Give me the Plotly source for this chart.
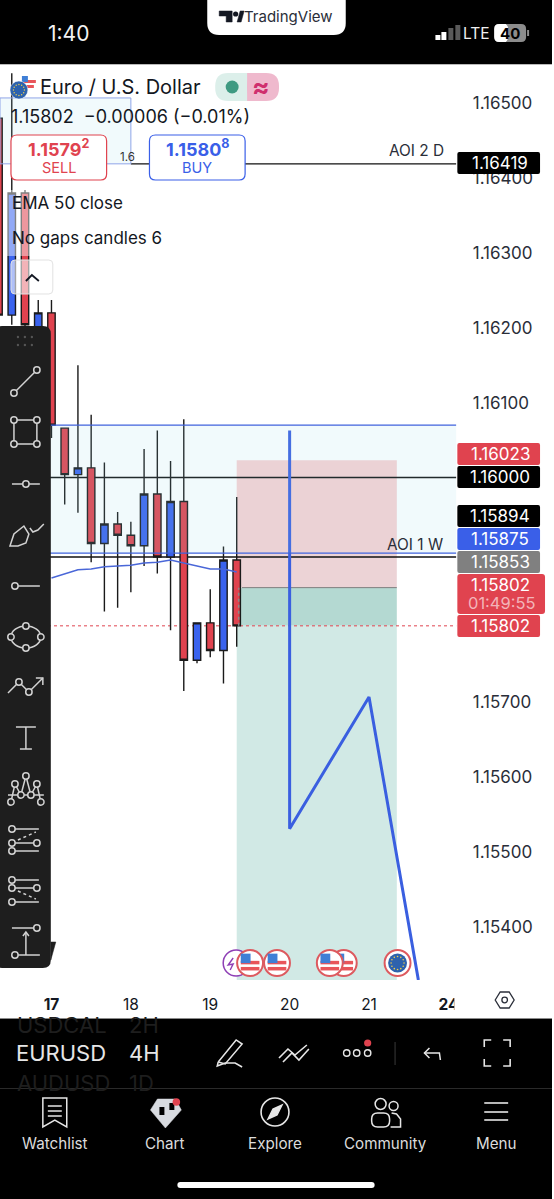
"""EUR/USD 4H TradingView phone screenshot rebuilt in Plotly."""

import plotly.graph_objects as go

W, H = 554, 1199
FONT = "Inter, Roboto, sans-serif"

# pixel frame of the chart pane
PANE_TOP, PANE_BOTTOM, PANE_RIGHT = 65, 980, 458
# price and bar index seen at the pane edges
PRICE_TOP, PRICE_BOTTOM = 1.16551, 1.15329
BAR_LEFT, BAR_RIGHT = -3.89, 30.6

BARS = list(range(-4, 15))
OPENS = [1.16480, 1.16217, 1.16380, 1.16170, 1.16220, 1.16066, 1.16004, 1.16013, 1.15912, 1.15938,
         1.15923, 1.15909, 1.15978, 1.15894, 1.15968, 1.15756, 1.15806, 1.15769, 1.15890]
CLOSES = [1.16217, 1.16380, 1.16204, 1.16220, 1.16070, 1.16004, 1.16013, 1.15912, 1.15938, 1.15923,
          1.15909, 1.15978, 1.15894, 1.15968, 1.15756, 1.15806, 1.15769, 1.15890, 1.15802]
HIGHS = [1.16500, 1.16540, 1.16384, 1.16237, 1.16237, 1.16066, 1.16150, 1.16084, 1.16020, 1.15954,
         1.15941, 1.16038, 1.16063, 1.16022, 1.16078, 1.15806, 1.15851, 1.15908, 1.15974]
LOWS = [1.16197, 1.16204, 1.16185, 1.16144, 1.16053, 1.15964, 1.15953, 1.15887, 1.15821, 1.15826,
        1.15847, 1.15882, 1.15872, 1.15796, 1.15715, 1.15752, 1.15760, 1.15725, 1.15774]

EMA_BARS = list(range(0, 15))
EMA_VALUES = [1.15866, 1.15871, 1.15877, 1.15878, 1.15881, 1.15882, 1.15883, 1.15886, 1.15887,
              1.15890, 1.15886, 1.15882, 1.15878, 1.15878, 1.15874]

DRAWING_BARS = [18, 18, 24, 27.73]
DRAWING_PRICES = [1.16063, 1.15531, 1.15707, 1.15329]

DAY_TICKS = [0, 6, 12, 18, 24, 30]
DAY_LABELS = ["<b>17</b>", "18", "19", "20", "21", "<b>24</b>"]
PRICE_TICKS = [1.165, 1.164, 1.163, 1.162, 1.161, 1.157, 1.156, 1.155, 1.154]

AOI_2D = 1.16419
ROUND_LEVEL = 1.16000
AOI_1W = 1.15894
ZONE_TOP, ZONE_BOTTOM = 1.16070, 1.15899
BOX_TOP, BOX_BOTTOM, BOX_END = 1.16507, 1.16419, 6
LAST_PRICE = 1.15802
STOP_PRICE, ENTRY_PRICE = 1.16023, 1.15853
POSITION_START, POSITION_END = 14, 26.1

# text, top px, bottom px, colour
PRICE_TAGS = [
    ("1.16419", 152, 174, "#000000"),
    ("1.16023", 443, 465, "#e0434f"),
    ("1.16000", 466, 488, "#000000"),
    ("1.15894", 505, 527, "#000000"),
    ("1.15875", 528, 550, "#3a5fe8"),
    ("1.15853", 551, 573, "#808080"),
    ("1.15802", 615, 637, "#e0434f"),
]

TOOL_BG = "#1e1e1e"
TOOL_FG = "#d2d2d2"


def px(x):
    return x / W


def py(y):
    return 1 - y / H


def poly(points, closed=False, color=TOOL_FG, width=1.5, fill=None, dash=None):
    """Path shape from pixel points."""
    d = "M" + " L".join(f"{px(x):.5f} {py(y):.5f}" for x, y in points)
    if closed:
        d += " Z"
    line = dict(color=color, width=width)
    if dash:
        line["dash"] = dash
    shape = dict(type="path", xref="paper", yref="paper", path=d, line=line, layer="above")
    if fill:
        shape["fillcolor"] = fill
    return shape


def round_rect(x0, y0, x1, y1, r, fill=None, color="rgba(0,0,0,0)", width=1.0):
    pts = [
        f"M{px(x0 + r):.5f} {py(y0):.5f}",
        f"L{px(x1 - r):.5f} {py(y0):.5f}",
        f"Q{px(x1):.5f} {py(y0):.5f} {px(x1):.5f} {py(y0 + r):.5f}",
        f"L{px(x1):.5f} {py(y1 - r):.5f}",
        f"Q{px(x1):.5f} {py(y1):.5f} {px(x1 - r):.5f} {py(y1):.5f}",
        f"L{px(x0 + r):.5f} {py(y1):.5f}",
        f"Q{px(x0):.5f} {py(y1):.5f} {px(x0):.5f} {py(y1 - r):.5f}",
        f"L{px(x0):.5f} {py(y0 + r):.5f}",
        f"Q{px(x0):.5f} {py(y0):.5f} {px(x0 + r):.5f} {py(y0):.5f} Z",
    ]
    shape = dict(type="path", xref="paper", yref="paper", path=" ".join(pts),
                 line=dict(color=color, width=width), layer="above")
    if fill:
        shape["fillcolor"] = fill
    return shape


def rect(x0, y0, x1, y1, fill):
    return dict(type="rect", xref="paper", yref="paper", x0=px(x0), x1=px(x1), y0=py(y0), y1=py(y1),
                fillcolor=fill, line=dict(width=0), layer="above")


def ring(cx, cy, r=3.2, color=TOOL_FG, fill=TOOL_BG, width=1.5):
    return dict(type="circle", xref="paper", yref="paper", x0=px(cx - r), x1=px(cx + r),
                y0=py(cy + r), y1=py(cy - r), fillcolor=fill, line=dict(color=color, width=width),
                layer="above")


def label(text, x, y, size, color="#131722", anchor="left", family=FONT):
    # annotations pad their text a little, pull left-anchored ones back
    shift = -2 if anchor == "left" else 0
    return dict(text=text, x=px(x), y=py(y), xref="paper", yref="paper", showarrow=False,
                xanchor=anchor, yanchor="middle", xshift=shift, borderpad=0,
                font=dict(size=size, color=color, family=family))


def us_flag(cx, cy, r=13):
    out = [ring(cx, cy, r, color="#dd5a5f", fill="#ffffff", width=2)]
    s = r * 0.72
    for off in (-0.05, 0.42):
        out.append(rect(cx - s, cy + off * r - 1.5, cx + s, cy + off * r + 2, "#e8555a"))
    out.append(rect(cx - s, cy - s, cx + s * 0.05, cy + 0.1, "#3f7fd6"))
    return out


def eu_stars(cx, cy, r, size=0.8):
    """Ring of little yellow dots, twelve around."""
    steps = [(0, -1), (0.5, -0.87), (0.87, -0.5), (1, 0), (0.87, 0.5), (0.5, 0.87),
             (0, 1), (-0.5, 0.87), (-0.87, 0.5), (-1, 0), (-0.87, -0.5), (-0.5, -0.87)]
    return [ring(cx + r * a, cy + r * b, size, color="#f2d04a", fill="#f2d04a", width=0) for a, b in steps]


def toolbar_shapes():
    out = [round_rect(-6, 326, 51, 968, 8, fill=TOOL_BG)]
    out.append(poly([(51, 942), (56, 942), (51, 960)], closed=True, color=TOOL_BG, width=0.5, fill=TOOL_BG))
    for gx in (18, 25, 32):
        for gy in (337, 345):
            out.append(ring(gx, gy, 1.2, color="#555555", fill="#555555", width=0))
    # trend line
    out += [poly([(14, 393), (37, 370)]), ring(14, 393), ring(37, 370)]
    # rectangle
    out.append(poly([(14, 420), (37, 420), (37, 444), (14, 444)], closed=True))
    out += [ring(14, 420), ring(37, 420), ring(14, 444), ring(37, 444)]
    # horizontal line
    out += [poly([(12, 484), (40, 484)]), ring(26, 484)]
    # brush
    out.append(poly([(10, 546), (14, 534), (24, 526), (29, 534), (26, 543), (18, 546)], closed=True))
    out.append(poly([(30, 528), (33, 532), (38, 530), (44, 524)]))
    # ray
    out += [poly([(15, 586), (40, 586)]), ring(15, 586)]
    # ellipse
    out.append(dict(type="circle", xref="paper", yref="paper", x0=px(11), x1=px(41), y0=py(648), y1=py(626),
                    line=dict(color=TOOL_FG, width=1.5), layer="above"))
    out += [ring(26, 626), ring(11, 637), ring(41, 637), ring(26, 648)]
    # path with arrow
    out.append(poly([(8, 693), (19, 682), (29, 692), (43, 678)]))
    out.append(poly([(36, 678), (43, 678), (43, 685)]))
    out += [ring(19, 682), ring(29, 692)]
    # text tool
    out.append(poly([(16, 727), (36, 727)]))
    out.append(poly([(26, 727), (26, 749)]))
    out.append(poly([(20, 749), (32, 749)]))
    # pattern
    out.append(poly([(8, 795), (44, 795)]))
    out.append(poly([(11, 802), (15, 784), (21, 795), (26, 776), (31, 795), (37, 784), (41, 802)]))
    for cx, cy in [(26, 776), (15, 784), (37, 784), (21, 795), (31, 795), (11, 802), (41, 802)]:
        out.append(ring(cx, cy))
    # two channel tools
    for ys in ((829, 843, 851), (880, 888, 902)):
        for yy in ys:
            out.append(poly([(12, yy), (39, yy)]))
            out.append(ring(12, yy))
        out.append(ring(37, ys[1]))
    out.append(poly([(18, 840), (36, 832)], dash="dot"))
    out.append(poly([(18, 891), (36, 899)], dash="dot"))
    # anchored tool
    out += [poly([(12, 928), (37, 928)]), ring(37, 928)]
    out += [poly([(15, 955), (40, 955)]), ring(15, 955)]
    out.append(poly([(26, 955), (26, 932)]))
    out.append(poly([(23, 936), (26, 932), (29, 936)]))
    return out


def chrome_shapes():
    out = [
        rect(0, 0, W, 64, "#000000"),
        rect(0, 64, W, 65, "#b9b9b9"),
        rect(0, 1018, W, H, "#000000"),
        rect(0, 1018, W, 1019, "#8a8a8a"),
        rect(0, 1088, W, 1089, "#2a2a2a"),
        round_rect(178, 1182, 376, 1188, 3, fill="#ffffff"),
        # cover for the clipped 24 label
        rect(456, 985, 470, 1015, "#ffffff"),
        # pill behind the logo
        round_rect(208, -14, 347, 35, 12, fill="#ffffff"),
        poly([(220, 11), (233, 11), (233, 22), (227, 22), (227, 16), (220, 16)], closed=True,
             color="#131722", width=0.5, fill="#131722"),
        ring(236.5, 14, 2.6, color="#131722", fill="#131722", width=0),
        poly([(238, 22), (241, 11), (245, 11), (242, 22)], closed=True, color="#131722", width=0.5, fill="#131722"),
        # signal and battery
        rect(437, 35, 442, 40, "#ffffff"),
        rect(443, 32, 448, 40, "#ffffff"),
        rect(450, 28, 455, 40, "#5a5a5a"),
        rect(457, 25, 462, 40, "#5a5a5a"),
        round_rect(496, 24, 528, 42, 5, fill="#8c8c8c"),
        round_rect(496, 24, 510, 42, 5, fill="#ffffff"),
        rect(504, 24, 508, 42, "#ffffff"),
        rect(529, 30, 531, 36, "#8c8c8c"),
        # wash over candles under the legend
        rect(6, 190, 32, 256, "rgba(255,255,255,0.45)"),
        # status pill
        round_rect(216, 73, 262, 101, 13, fill="#dcefea"),
        round_rect(248, 73, 280, 101, 13, fill="#efb9cd"),
        rect(248, 73, 262, 101, "#efb9cd"),
        ring(233, 87, 6.5, color="#3f9a82", fill="#3f9a82", width=0),
        # legend flags
        ring(28, 83, 8, color="#ffffff", fill="#ffffff", width=0),
        rect(22, 80, 36, 83, "#e8555a"),
        rect(24, 85, 34, 88, "#e8555a"),
        rect(22, 76, 28, 82, "#3f7fd6"),
        ring(19, 90, 9, color="#ffffff", fill="#2d62ad", width=0.5),
        # sell / buy
        round_rect(11, 135, 107, 180, 6, fill="#ffffff", color="#e0434f", width=1.2),
        round_rect(150, 135, 246, 180, 6, fill="#ffffff", color="#3a5fe8", width=1.2),
        # collapse button
        round_rect(11, 260, 53, 294, 4, fill="rgba(255,255,255,0.6)", color="#e2e2e2", width=1),
        poly([(26, 281), (32, 275), (39, 281)], color="#131722", width=1.8),
        # settings hexagon
        poly([(497, 1000), (502, 992), (511, 992), (516, 1000), (511, 1008), (502, 1008)], closed=True,
             color="#2a2e39", width=1.3),
        ring(506.5, 1000, 2.8, color="#2a2e39", fill="#ffffff", width=1.3),
    ]
    out += eu_stars(19, 90, 5.5, 0.7)
    # event badges
    out.append(ring(237, 963, 13, color="#8e3fb5", fill="#ffffff", width=1.5))
    out.append(poly([(234, 958), (229, 965), (234, 964), (231, 970)], color="#8e3fb5", width=1.4))
    for cx in (345, 331, 251, 278):
        out += us_flag(cx, 963)
    out.append(ring(399, 963, 13, color="#dd5a5f", fill="#ffffff", width=2))
    out.append(ring(399, 963, 9.5, color="#2d62ad", fill="#2d62ad", width=0))
    out += eu_stars(399, 963, 6.5, 0.8)

    # toolbar row
    white = "#e6e6e6"
    out.append(poly([(219, 1062), (237, 1040), (243, 1044), (226, 1064), (219, 1062)], color=white))
    out.append(poly([(219, 1062), (218, 1066), (226, 1063), (236, 1063), (243, 1067)], color=white))
    out.append(poly([(280, 1058), (289, 1049), (296, 1055), (308, 1045)], color=white, width=1.6))
    out.append(poly([(284, 1062), (293, 1053), (300, 1060), (310, 1049)], color=white, width=1.6))
    for cx in (348, 358, 369):
        out.append(ring(cx, 1053, 3.2, color=white, fill="#000000", width=1.4))
    out.append(ring(369, 1043, 3.6, color="#e0434f", fill="#e0434f", width=0))
    out.append(rect(396, 1042, 397, 1065, "#3a3a3a"))
    out.append(poly([(426, 1053), (441, 1053), (442, 1060)], color=white))
    out.append(poly([(431, 1048), (426, 1053), (431, 1058)], color=white))
    for a, b, c in [
        [(486, 1047), (486, 1040), (493, 1040)],
        [(505, 1040), (512, 1040), (512, 1047)],
        [(512, 1059), (512, 1066), (505, 1066)],
        [(493, 1066), (486, 1066), (486, 1059)],
    ]:
        out.append(poly([a, b, c], color=white, width=1.6))

    # tab bar icons
    out.append(poly([(43, 1098), (67, 1098), (67, 1127), (55, 1120), (43, 1127)], closed=True, color=white))
    for yy in (1106, 1111, 1116):
        out.append(poly([(48, yy), (62, yy)], color=white))
    out.append(poly([(151, 1110), (158, 1099), (176, 1099), (182, 1110), (166, 1128)], closed=True,
                    color="#d8dbe0", width=0.5, fill="#d8dbe0"))
    out.append(rect(160, 1107, 165, 1115, "#000000"))
    out.append(rect(170, 1103, 175, 1110, "#000000"))
    out.append(ring(177, 1102, 3.8, color="#e0434f", fill="#e0434f", width=0))
    out.append(ring(276, 1112, 14, color=white, fill="#000000", width=1.6))
    out.append(poly([(269, 1119), (274, 1109), (283, 1105), (278, 1115)], closed=True, color=white, fill=white))
    out.append(ring(382, 1104, 5.5, color=white, fill="#000000"))
    out.append(ring(395, 1106, 4.5, color=white, fill="#000000"))
    out.append(round_rect(373, 1113, 391, 1127, 6, color=white, width=1.5))
    out.append(poly([(393, 1113), (398, 1114), (402, 1119), (402, 1127), (392, 1127)], color=white))
    for yy in (1103, 1112, 1120):
        out.append(poly([(486, yy), (510, yy)], color=white, width=1.6))
    return out


def data_shapes():
    """Zones and levels, drawn in price and bar coordinates."""
    below = dict(xref="x", yref="y", layer="below")
    right = BAR_RIGHT
    left = BAR_LEFT
    tint = "rgba(150,215,235,0.13)"
    out = [
        # position tool, the upper pink part gets tinted by the zone
        dict(type="rect", x0=POSITION_START, x1=POSITION_END, y0=ZONE_BOTTOM, y1=STOP_PRICE,
             fillcolor="#f8d2d3", line=dict(width=0), **below),
        dict(type="rect", x0=POSITION_START, x1=POSITION_END, y0=ENTRY_PRICE, y1=ZONE_BOTTOM,
             fillcolor="#ecd3d6", line=dict(width=0), **below),
        dict(type="rect", x0=POSITION_START, x1=POSITION_END, y0=LAST_PRICE, y1=ENTRY_PRICE,
             fillcolor="#b4d9d2", line=dict(width=0), **below),
        dict(type="rect", x0=POSITION_START, x1=POSITION_END, y0=PRICE_BOTTOM, y1=LAST_PRICE,
             fillcolor="#d1e9e5", line=dict(width=0), **below),
        dict(type="line", x0=POSITION_START + 0.4, x1=POSITION_END, y0=ENTRY_PRICE, y1=ENTRY_PRICE,
             line=dict(color="#7d7d7d", width=1), **below),
        # levels sit behind the candles
        dict(type="line", x0=BOX_END, x1=right, y0=AOI_2D, y1=AOI_2D, line=dict(color="#111111", width=1.4), **below),
        dict(type="line", x0=left, x1=right, y0=ROUND_LEVEL, y1=ROUND_LEVEL, line=dict(color="#111111", width=1.4), **below),
        dict(type="line", x0=left, x1=right, y0=AOI_1W, y1=AOI_1W, line=dict(color="#111111", width=1.4), **below),
        dict(type="line", x0=left, x1=right, y0=LAST_PRICE, y1=LAST_PRICE,
             line=dict(color="#e0434f", width=1, dash="dot"), **below),
        # light blue areas tint the candles, so they go on top
        dict(type="rect", xref="x", yref="y", layer="above", x0=left, x1=right, y0=ZONE_BOTTOM, y1=ZONE_TOP,
             fillcolor=tint, line=dict(width=0)),
        dict(type="line", xref="x", yref="y", layer="above", x0=left, x1=right, y0=ZONE_TOP, y1=ZONE_TOP,
             line=dict(color="#3f62dc", width=1.2)),
        dict(type="line", xref="x", yref="y", layer="above", x0=left, x1=right, y0=ZONE_BOTTOM, y1=ZONE_BOTTOM,
             line=dict(color="#3f62dc", width=1.2)),
        dict(type="rect", xref="x", yref="y", layer="above", x0=left, x1=BOX_END, y0=BOX_BOTTOM, y1=BOX_TOP,
             fillcolor=tint, line=dict(color="#8fa4e8", width=1)),
        dict(type="line", xref="x", yref="y", layer="above", x0=POSITION_START + 0.15, x1=POSITION_START + 0.15,
             y0=LAST_PRICE, y1=ENTRY_PRICE, line=dict(color="#8a8a8a", width=1.5, dash="dot")),
    ]
    return out


def tag_shapes_and_labels():
    shapes, notes = [], []
    for text, top, bottom, color in PRICE_TAGS:
        shapes.append(round_rect(459, top, 542, bottom, 2, fill=color))
        notes.append(label(text, 502, (top + bottom) / 2, 17, "#ffffff", "center"))
    shapes.append(round_rect(459, 574, 547, 614, 3, fill="#e0434f"))
    notes.append(label("1.15802", 502, 585, 17, "#ffffff", "center"))
    notes.append(label("01:49:55", 504, 603, 16.5, "#f3b4b9", "center"))
    return shapes, notes


def text_labels():
    dim = "#1e1e1e"
    soft = "#dcdcdc"
    return [
        label("1:40", 69, 33, 21, "#f2f2f2", "center"),
        label("TradingView", 290, 16, 15, "#2a2e39", "center"),
        label("LTE", 478, 33, 15.5, "#f0f0f0", "center"),
        label("<b>40</b>", 512, 33, 15, "#000000", "center"),
        label("Euro / U.S. Dollar", 41, 87, 20),
        label("<b>≈</b>", 262, 86, 26, "#cf2f6e", "center"),
        label("1.15802  −0.00006 (−0.01%)", 12, 117, 18),
        label("1.6", 128, 157, 11.5, "#333333", "center"),
        label("<b>1.1579<sup>2</sup></b>", 59, 148, 18, "#e0434f", "center"),
        label("SELL", 59, 167, 14.5, "#e0434f", "center"),
        label("<b>1.1580<sup>8</sup></b>", 198, 148, 18, "#3a5fe8", "center"),
        label("BUY", 198, 167, 14.5, "#3a5fe8", "center"),
        label("AOI 2 D", 418, 150, 15.4, "#2a2e39", "center"),
        label("AOI 1 W", 417, 544, 15.4, "#2a2e39", "center"),
        label("EMA 50 close", 13, 203, 17),
        label("No gaps candles 6", 13, 238, 17),
        label("USDCAL", 18, 1025, 22, dim),
        label("2H", 130, 1025, 22, dim),
        label("EURUSD", 17, 1053, 22, "#e6e6e6"),
        label("4H", 130, 1053, 22, "#e6e6e6"),
        label("AUDUSD", 18, 1083, 22, dim),
        label("1D", 130, 1083, 22, dim),
        label("Watchlist", 55, 1143, 15.2, soft, "center"),
        label("Chart", 166, 1143, 15.2, soft, "center"),
        label("Explore", 276, 1143, 15.2, soft, "center"),
        label("Community", 387, 1143, 15.2, soft, "center"),
        label("Menu", 498, 1143, 15.2, soft, "center"),
    ]


fig = go.Figure()
fig.add_trace(
    go.Candlestick(
        x=BARS,
        open=OPENS,
        high=HIGHS,
        low=LOWS,
        close=CLOSES,
        whiskerwidth=0,
        increasing=dict(fillcolor="#3a63ee", line=dict(color="#1a1a1a", width=1.4)),
        decreasing=dict(fillcolor="#e0434f", line=dict(color="#1a1a1a", width=1.4)),
        showlegend=False,
    )
)
fig.add_trace(
    go.Scatter(x=EMA_BARS, y=EMA_VALUES, mode="lines", line=dict(color="#4a67d8", width=1.5), showlegend=False)
)
fig.add_trace(
    go.Scatter(x=DRAWING_BARS, y=DRAWING_PRICES, mode="lines", line=dict(color="#3a5fe0", width=3), showlegend=False)
)

tag_shapes, tag_notes = tag_shapes_and_labels()
fig.update_layout(
    width=W,
    height=H,
    margin=dict(l=0, r=0, t=0, b=0),
    paper_bgcolor="#ffffff",
    plot_bgcolor="#ffffff",
    font=dict(family=FONT),
    showlegend=False,
    hovermode=False,
    boxgap=0.2,
    xaxis=dict(
        domain=[0, PANE_RIGHT / W],
        range=[BAR_LEFT, BAR_RIGHT],
        rangeslider=dict(visible=False),
        tickvals=DAY_TICKS,
        ticktext=DAY_LABELS,
        ticks="outside",
        ticklen=10,
        tickcolor="rgba(0,0,0,0)",
        tickfont=dict(size=15.5, color="#131722", family=FONT),
        showgrid=False,
        zeroline=False,
        showline=False,
    ),
    yaxis=dict(
        domain=[1 - PANE_BOTTOM / H, 1 - PANE_TOP / H],
        range=[PRICE_BOTTOM, PRICE_TOP],
        side="right",
        tickvals=PRICE_TICKS,
        tickformat=".5f",
        ticks="outside",
        ticklen=12,
        tickcolor="rgba(0,0,0,0)",
        tickfont=dict(size=17, color="#2a2e39", family=FONT),
        showgrid=False,
        zeroline=False,
        showline=False,
    ),
    shapes=data_shapes() + chrome_shapes() + toolbar_shapes() + tag_shapes,
    annotations=text_labels() + tag_notes,
)

fig.write_html(
    "out.html",
    config={"displayModeBar": False},
    post_script="document.body.style.margin='0';document.documentElement.style.overflow='hidden';",
)
